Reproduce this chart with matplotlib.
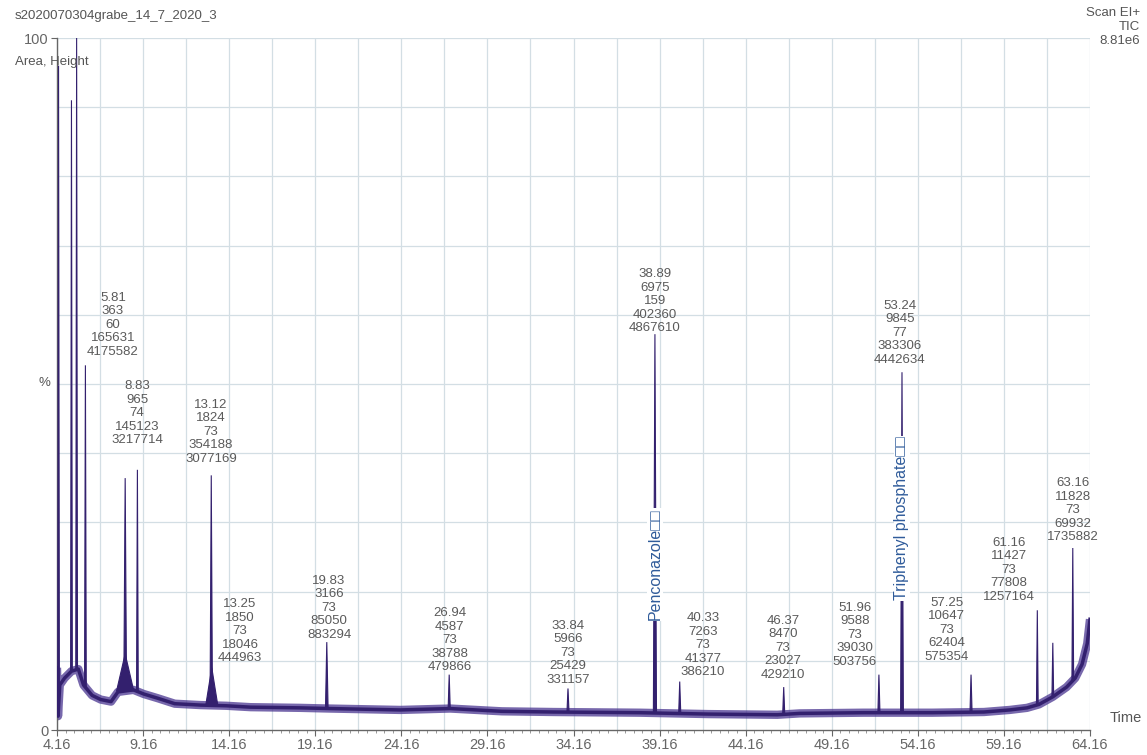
import matplotlib.pyplot as plt
import numpy as np

plt.rcParams['font.family'] = ['Liberation Sans', 'DejaVu Sans']

# baseline of the TIC trace (time in min, intensity in %)
base_t = [4.16, 4.22, 4.32, 4.6, 5.0, 5.4, 5.7, 6.2, 6.7, 7.3, 7.7, 8.6, 9.2, 10.0, 11.0,
          12.5, 14.0, 15.4, 18.3, 20.0, 24.1, 27.0, 30.0, 33.0, 38.0, 42.0, 46.0, 47.3,
          51.0, 55.0, 58.0, 59.5, 60.5, 61.2, 62.0, 62.8, 63.3, 63.7, 64.0, 64.16]
base_y = [9.0, 2.0, 6.5, 7.5, 8.5, 8.8, 6.5, 5.0, 4.4, 4.1, 5.5, 5.8, 5.2, 4.6, 3.8,
          3.6, 3.5, 3.3, 3.2, 3.1, 2.9, 3.1, 2.7, 2.6, 2.5, 2.3, 2.2, 2.4,
          2.5, 2.5, 2.6, 2.9, 3.2, 3.7, 4.8, 6.2, 7.5, 9.5, 12.5, 16.0]

# peaks: retention time, apex height (%), width at base (min)
peak_t = [4.25, 5.00, 5.30, 5.81, 8.12, 8.12, 8.83, 13.12, 13.15, 19.83, 26.94, 33.84,
          38.89, 40.33, 46.37, 51.90, 53.24, 57.25, 61.10, 62.00, 63.16]
peak_h = [96.0, 91.0, 100.0, 52.7, 36.4, 11.0, 37.6, 36.8, 9.0, 12.7, 8.0, 6.0,
          57.2, 7.0, 6.2, 8.0, 51.7, 8.0, 17.3, 12.6, 26.3]
peak_w = [0.10, 0.10, 0.10, 0.10, 0.16, 1.0, 0.10, 0.14, 0.70, 0.15, 0.12, 0.12,
          0.18, 0.12, 0.12, 0.12, 0.16, 0.12, 0.10, 0.10, 0.10]

# peak annotations: RT, scan, mass, height, area
lab_rt = ['5.81', '8.83', '13.12', '13.25', '19.83', '26.94', '33.84', '38.89',
          '40.33', '46.37', '51.96', '53.24', '57.25', '61.16', '63.16']
lab_scan = [363, 965, 1824, 1850, 3166, 4587, 5966, 6975, 7263, 8470, 9588, 9845,
            10647, 11427, 11828]
lab_mass = [60, 74, 73, 73, 73, 73, 73, 159, 73, 73, 73, 77, 73, 73, 73]
lab_height = [165631, 145123, 354188, 18046, 85050, 38788, 25429, 402360, 41377,
              23027, 39030, 383306, 62404, 77808, 69932]
lab_area = [4175582, 3217714, 3077169, 444963, 883294, 479866, 331157, 4867610,
            386210, 429210, 503756, 4442634, 575354, 1257164, 1735882]
# where each annotation sits (centre x in min, bottom y in %)
lab_x = [7.41, 8.81, 13.10, 14.79, 19.96, 26.98, 33.83, 38.89, 41.67, 46.32, 50.50,
         53.12, 55.84, 59.44, 63.16]
lab_y = [53.8, 41.0, 38.3, 9.5, 12.9, 8.2, 6.4, 57.2, 7.5, 7.1, 9.0, 52.6, 9.7, 18.4, 27.0]

names = ['Penconazole\u25a1\u25a1', 'Triphenyl phosphate\u25a1\u25a1']
name_t = [38.89, 53.24]
name_y = [15.9, 18.8]

xticks = [4.16, 9.16, 14.16, 19.16, 24.16, 29.16, 34.16, 39.16, 44.16, 49.16, 54.16,
          59.16, 64.16]

W, H = 1147, 755
fig = plt.figure(figsize=(W / 100, H / 100), dpi=100)
ax = fig.add_axes([57 / W, 1 - 730 / H, (1090 - 57) / W, (730 - 38) / H])
ax.set_xlim(4.16, 64.16)
ax.set_ylim(0, 100)

grid_c = '#d3dee4'
for g in np.arange(4.16, 64.2, 2.5):
    ax.axvline(g, color=grid_c, lw=0.9, zorder=0)
for g in range(10, 101, 10):
    ax.axhline(g, color=grid_c, lw=0.9, zorder=0)

trace_c = '#33206e'
ax.plot(base_t, base_y, color='#4a3590', lw=6, alpha=0.75, solid_capstyle='butt', zorder=2)
ax.plot(base_t, base_y, color=trace_c, lw=2.5, zorder=3)
for t, h, w in zip(peak_t, peak_h, peak_w):
    b = np.interp(t, base_t, base_y)
    ax.fill([t - w / 2, t, t + w / 2], [b, h, b], color=trace_c, lw=0.8, zorder=3)

for i in range(len(lab_rt)):
    txt = '%s\n%d\n%d\n%d\n%d' % (lab_rt[i], lab_scan[i], lab_mass[i], lab_height[i], lab_area[i])
    ax.text(lab_x[i], lab_y[i], txt, ha='center', va='bottom', fontsize=9.5,
            color='#5a5a5a', linespacing=1.17, zorder=5)

for n, t, y in zip(names, name_t, name_y):
    ax.text(t, y, n, rotation=90, ha='center', va='bottom', fontsize=11.5,
            color='#2f5b9a', zorder=6,
            bbox=dict(facecolor='white', edgecolor='none', pad=0.5),
            family=['Liberation Sans', 'DejaVu Sans'])

for s in ['top', 'right']:
    ax.spines[s].set_visible(False)
for s in ['left', 'bottom']:
    ax.spines[s].set_color('#666666')
    ax.spines[s].set_linewidth(1.0)

ax.set_xticks(xticks)
ax.set_xticklabels(['%.2f' % v for v in xticks])
ax.set_xticks(np.arange(4.66, 64.2, 0.5), minor=True)
ax.set_yticks([0, 100])
ax.set_yticklabels(['0', '100'])
ax.tick_params(axis='both', colors='#666666', labelsize=10.5, length=4, width=0.8, pad=2)
ax.tick_params(axis='x', which='minor', length=2, width=0.6, colors='#888888')

fig.text(15 / W, 1 - 16 / H, 's2020070304grabe_14_7_2020_3', fontsize=9.5, color='#555555',
         va='center', ha='left')
fig.text(15 / W, 1 - 62 / H, 'Area, Height', fontsize=9.5, color='#555555', va='center', ha='left')
fig.text(44 / W, 1 - 383 / H, '%', fontsize=9.5, color='#555555', va='center', ha='center')
fig.text(1140 / W, 1 - 27 / H, 'Scan EI+\nTIC\n8.81e6', fontsize=9.5, color='#555555',
         va='center', ha='right', multialignment='right', linespacing=1.17)
fig.text(1142 / W, 1 - 718 / H, 'Time', fontsize=10.5, color='#555555', va='center', ha='right')

fig.savefig('out.png', dpi=100, facecolor='white')
